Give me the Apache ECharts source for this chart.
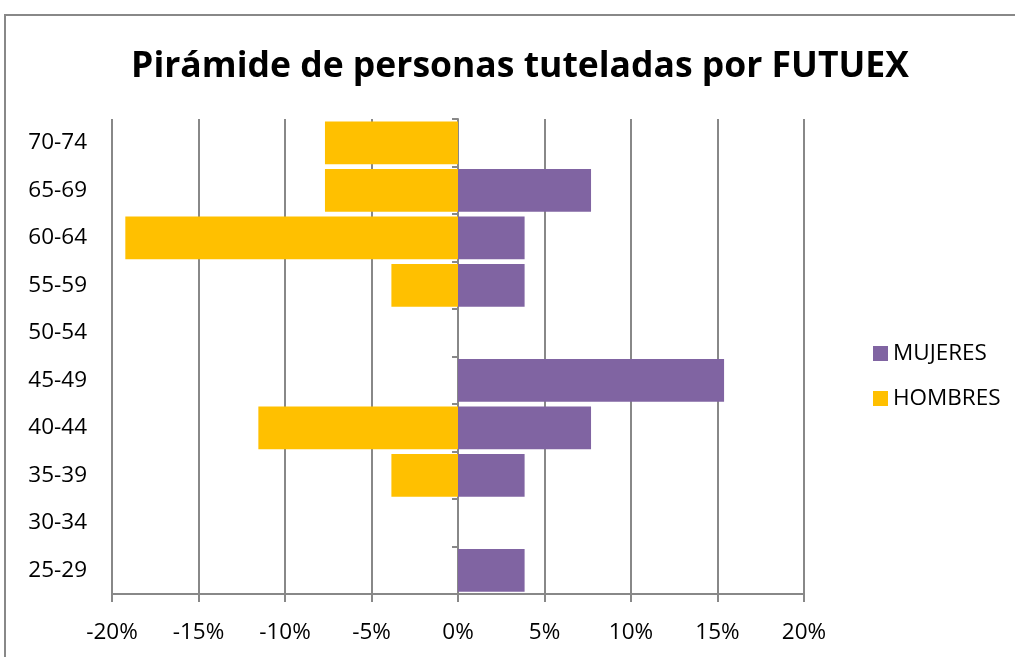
<!DOCTYPE html>
<html>
<head>
<meta charset="utf-8">
<script src="https://cdn.jsdelivr.net/npm/echarts@6/dist/echarts.min.js"></script>
<style>
  html, body { margin: 0; padding: 0; background: #fff; }
  #main { width: 1015px; height: 657px; }
</style>
</head>
<body>
<div id="main"></div>
<script>
// grupos de edad, de abajo a arriba
var edades = ['25-29', '30-34', '35-39', '40-44', '45-49', '50-54', '55-59', '60-64', '65-69', '70-74']
// porcentajes (hombres en negativo)
var mujeres = [3.85, 0, 3.85, 7.69, 15.38, 0, 3.85, 3.85, 7.69, 0]
var hombres = [0, 0, -3.85, -11.54, 0, 0, -3.85, -19.23, -7.69, -7.69]
var ticksX = [-20, -15, -10, -5, 0, 5, 10, 15, 20]

var font = 'Open Sans'
var myChart = echarts.init(document.getElementById('main'))
var option = {
  backgroundColor: '#fff',
  animation: false,
  title: {
    text: 'Pirámide de personas tuteladas por FUTUEX',
    left: 515,
    textAlign: 'center',
    top: 44,
    textStyle: { fontFamily: font, fontWeight: 'bold', fontSize: 35.5, color: '#000' }
  },
  graphic: [{
    type: 'rect',
    shape: { x: 5, y: 15, width: 1030, height: 680 },
    style: { fill: 'none', stroke: '#888', lineWidth: 2 }
  }],
  legend: {
    orient: 'vertical',
    left: 868,
    top: 337,
    itemWidth: 15,
    itemHeight: 15,
    itemGap: 22,
    icon: 'rect',
    textStyle: { fontFamily: font, fontSize: 22.5, color: '#000' },
    data: ['MUJERES', 'HOMBRES']
  },
  grid: { left: 112, right: 211, top: 119, bottom: 63 },
  xAxis: {
    type: 'value',
    min: ticksX[0],
    max: ticksX[ticksX.length - 1],
    interval: 5,
    axisLine: { show: true, lineStyle: { color: '#888', width: 2 } },
    axisTick: { show: true, length: 8, lineStyle: { color: '#888', width: 2 } },
    splitLine: { show: true, lineStyle: { color: '#888', width: 2 } },
    axisLabel: {
      formatter: function (v) { return v + '%' },
      fontFamily: font, fontSize: 22.5, color: '#000', margin: 27
    }
  },
  yAxis: [{
    type: 'category',
    position: 'left',
    data: edades,
    axisLine: { show: false },
    axisTick: { show: false },
    axisLabel: { fontFamily: font, fontSize: 22.5, color: '#000', margin: 25 }
  }, {
    type: 'category',
    position: 'left',
    offset: -346,
    data: edades,
    axisLine: { show: true, lineStyle: { color: '#888', width: 2 } },
    axisTick: { show: true, length: 6, lineStyle: { color: '#888', width: 2 } },
    axisLabel: { show: false }
  }],
  series: [{
    name: 'MUJERES',
    type: 'bar',
    stack: 'total',
    yAxisIndex: 0,
    barCategoryGap: '10%',
    itemStyle: { color: '#8064A2' },
    data: mujeres
  }, {
    name: 'HOMBRES',
    type: 'bar',
    stack: 'total',
    yAxisIndex: 0,
    barCategoryGap: '10%',
    itemStyle: { color: '#FFC000' },
    data: hombres
  }]
}
myChart.setOption(option)
</script>
</body>
</html>
